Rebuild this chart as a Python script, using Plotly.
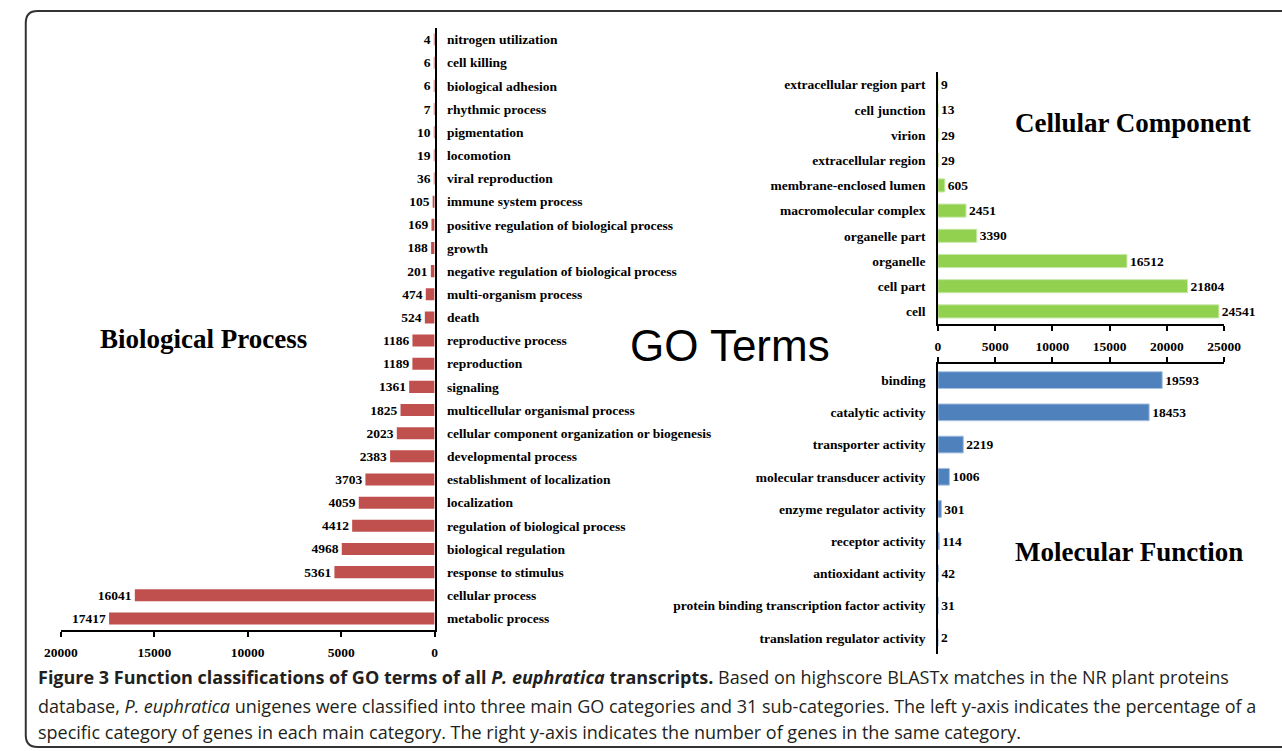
import plotly.graph_objects as go

W, H = 1282, 751

# ---------------- data ----------------
bp_terms = ["nitrogen utilization", "cell killing", "biological adhesion", "rhythmic process",
            "pigmentation", "locomotion", "viral reproduction", "immune system process",
            "positive regulation of biological process", "growth",
            "negative regulation of biological process", "multi-organism process", "death",
            "reproductive process", "reproduction", "signaling", "multicellular organismal process",
            "cellular component organization or biogenesis", "developmental process",
            "establishment of localization", "localization", "regulation of biological process",
            "biological regulation", "response to stimulus", "cellular process", "metabolic process"]
bp_values = [4, 6, 6, 7, 10, 19, 36, 105, 169, 188, 201, 474, 524, 1186, 1189, 1361, 1825,
             2023, 2383, 3703, 4059, 4412, 4968, 5361, 16041, 17417]

cc_terms = ["extracellular region part", "cell junction", "virion", "extracellular region",
            "membrane-enclosed lumen", "macromolecular complex", "organelle part", "organelle",
            "cell part", "cell"]
cc_values = [9, 13, 29, 29, 605, 2451, 3390, 16512, 21804, 24541]

mf_terms = ["binding", "catalytic activity", "transporter activity", "molecular transducer activity",
            "enzyme regulator activity", "receptor activity", "antioxidant activity",
            "protein binding transcription factor activity", "translation regulator activity"]
mf_values = [19593, 18453, 2219, 1006, 301, 114, 42, 31, 2]

bp_ticks = [0, 5000, 10000, 15000, 20000]
cr_ticks = [0, 5000, 10000, 15000, 20000, 25000]

# ---------------- styling helpers ----------------
SERIF = "Liberation Serif, Times New Roman, serif"
def px(x):
    return x / W
def py(y):
    return 1 - y / H

lab_font = dict(family=SERIF, size=13.5, color="black", weight="bold")

fig = go.Figure()

fig.add_trace(go.Bar(x=bp_values, y=bp_terms, orientation="h", xaxis="x", yaxis="y",
                     marker=dict(color="#C0504D", line=dict(width=0)),
                     text=[str(v) for v in bp_values], textposition="outside",
                     textfont=lab_font, constraintext="none", cliponaxis=False,
                     hoverinfo="x+y", showlegend=False))
fig.add_trace(go.Bar(x=cc_values, y=cc_terms, orientation="h", xaxis="x2", yaxis="y2",
                     marker=dict(color="#92D050", line=dict(width=1, color="#C8E8A8")),
                     text=[str(v) for v in cc_values], textposition="outside",
                     textfont=lab_font, constraintext="none", cliponaxis=False,
                     hoverinfo="x+y", showlegend=False))
fig.add_trace(go.Bar(x=mf_values, y=mf_terms, orientation="h", xaxis="x3", yaxis="y3",
                     marker=dict(color="#4F81BD", line=dict(width=1, color="#A9C2E2")),
                     text=[str(v) for v in mf_values], textposition="outside",
                     textfont=lab_font, constraintext="none", cliponaxis=False,
                     hoverinfo="x+y", showlegend=False))

axis_common = dict(showgrid=False, zeroline=False, showline=True, linecolor="black", linewidth=1.5,
                   tickfont=lab_font, fixedrange=True)
xtick = dict(ticks="outside", ticklen=5, tickcolor="black", tickwidth=1.5)

fig.update_layout(
    width=W, height=H, margin=dict(l=0, r=0, t=0, b=0),
    paper_bgcolor="white", plot_bgcolor="rgba(0,0,0,0)",
    bargap=0.48,
    xaxis=dict(domain=[px(45), px(429)], range=[20000, 0], anchor="y",
               tickvals=bp_ticks, tickformat="d", ticklabelstandoff=4, **xtick, **axis_common),
    yaxis=dict(domain=[py(630), py(28)], anchor="x", side="right", type="category",
               categoryorder="array", categoryarray=bp_terms, autorange="reversed",
               ticks="", ticklabelstandoff=8, **axis_common),
    xaxis2=dict(domain=[px(946), px(1240)], range=[0, 25000], anchor="y2",
                tickvals=cr_ticks, tickformat="d", ticklabelstandoff=4, **xtick, **axis_common),
    yaxis2=dict(domain=[py(324), py(72)], anchor="x2", type="category",
                categoryorder="array", categoryarray=cc_terms, autorange="reversed",
                ticks="", ticklabelstandoff=8, **axis_common),
    xaxis3=dict(domain=[px(946), px(1240)], range=[0, 25000], anchor="y3", side="top",
                tickvals=cr_ticks, showticklabels=False, **xtick, **axis_common),
    yaxis3=dict(domain=[py(654), py(364)], anchor="x3", type="category",
                categoryorder="array", categoryarray=mf_terms, autorange="reversed",
                ticks="", ticklabelstandoff=8, **axis_common),
)

title_font = dict(family=SERIF, size=27, color="black", weight="bold")
anns = [
    dict(text="Biological Process", x=px(192), y=py(339), font=title_font),
    dict(text="Cellular Component", x=px(1146), y=py(123), font=title_font),
    dict(text="Molecular Function", x=px(1142), y=py(552), font=title_font),
    dict(text="GO Terms", x=px(732), y=py(345),
         font=dict(family="Liberation Sans, Arial, sans-serif", size=44, color="black")),
]
for a in anns:
    fig.add_annotation(xref="paper", yref="paper", showarrow=False, xanchor="center",
                       yanchor="middle", **a)

cap_font = dict(family="Open Sans, Lato, sans-serif", size=18, color="#231F20")
caption = [
    "<b>Figure 3 Function classifications of GO terms of all <i>P. euphratica</i> transcripts.</b> "
    "Based on highscore BLASTx matches in the NR plant proteins",
    "database, <i>P. euphratica</i> unigenes were classified into three main GO categories and 31 "
    "sub-categories. The left y-axis indicates the percentage of a",
    "specific category of genes in each main category. The right y-axis indicates the number of "
    "genes in the same category.",
]
for line, yc in zip(caption, [677, 706, 732]):
    fig.add_annotation(xref="paper", yref="paper", showarrow=False, xanchor="left",
                       yanchor="middle", x=px(20), y=py(yc), text=line, font=cap_font)

# rounded frame around the figure panel
r = 12
left, top, bottom, right = 9, 11, 747, 1300
path = (f"M {px(right)},{py(top)} L {px(left + r)},{py(top)} "
        f"Q {px(left)},{py(top)} {px(left)},{py(top + r)} "
        f"L {px(left)},{py(bottom - r)} "
        f"Q {px(left)},{py(bottom)} {px(left + r)},{py(bottom)} "
        f"L {px(right)},{py(bottom)}")
fig.add_shape(type="path", xref="paper", yref="paper", path=path,
              line=dict(color="#333333", width=2))

# remove the default page margin so the figure fills the window exactly
fig.write_html("out.html", config={"displayModeBar": False},
               post_script="document.body.style.margin='0';document.body.style.overflow='hidden';")
